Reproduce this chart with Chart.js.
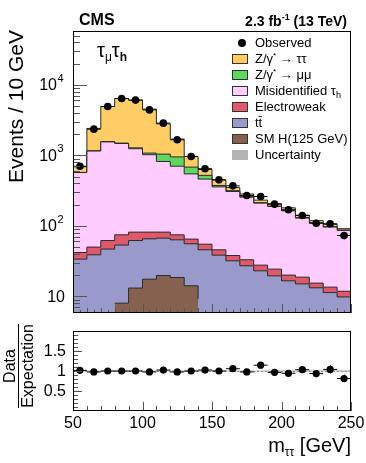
<!DOCTYPE html>
<html>
<head>
<meta charset="utf-8">
<script src="https://cdn.jsdelivr.net/npm/chart.js@4.4.1/dist/chart.umd.min.js"></script>
<style>
  body { margin: 0; background: #fff; font-family: "Liberation Sans", Arial, sans-serif; }
  #wrap { position: relative; width: 366px; height: 463px; overflow: hidden; background: #fff; }
  canvas { position: absolute; left: 0; }
  #main { top: 0; }
  #ratio { top: 320px; }
  .t { position: absolute; white-space: nowrap; color: #000; }
  .leg { position: absolute; left: 232px; font-size: 13px; line-height: 14px; white-space: nowrap; }
  .leg .box { position: absolute; left: 0; top: 2px; width: 16px; height: 10px; border: 1px solid #333; box-sizing: border-box; }
  .leg .lbl { position: absolute; left: 23px; top: 0; }
  .leg .dot { position: absolute; left: 6px; top: 3px; width: 8px; height: 8px; border-radius: 50%; background: #000; }
  sub, sup { line-height: 0; }
</style>
</head>
<body>
<div id="wrap">
  <canvas id="main" width="366" height="320"></canvas>
  <canvas id="ratio" width="366" height="143"></canvas>

  <div class="t" style="left:79px; top:12px; font-size:16px; line-height:16px; font-weight:bold;">CMS</div>
  <div class="t" style="right:19px; top:14px; font-size:14px; line-height:14px; font-weight:bold;">2.3 fb<sup style="font-size:9px; vertical-align:6px;">-1</sup> (13 TeV)</div>
  <div class="t" style="left:97px; top:40px; font-size:20px; line-height:20px;">τ<sub style="font-size:12px; vertical-align:-4px;">μ</sub>τ<sub style="font-size:12px; vertical-align:-4px; font-weight:bold;">h</sub></div>

  <div class="t" style="left:-84px; top:118px; width:200px; height:24px; line-height:24px; font-size:21px; text-align:right; transform:rotate(-90deg);">Events / 10 GeV</div>
  <div class="t" style="left:-31px; top:348px; width:100px; height:36px; font-size:16px; line-height:17px; text-align:center; transform:rotate(-90deg);">
    <div style="display:inline-block;"><div style="border-bottom:1px solid #000;">Data</div><div>Expectation</div></div>
  </div>
  <div class="t" style="right:15px; top:435px; font-size:20px; line-height:20px;">m<sub style="font-size:12px; vertical-align:-4px;">ττ</sub> [GeV]</div>

  <div id="legend"></div>
</div>

<script>
// bins of 10 GeV
const binEdges = [50, 60, 70, 80, 90, 100, 110, 120, 130, 140, 150, 160, 170, 180, 190, 200, 210, 220, 230, 240, 250];

const observed    = [700, 2350, 4930, 6400, 6070, 4410, 2860, 1660, 962, 645, 449, 369, 269, 260, 203, 169, 140, 109, 107, 73];
const zTauTau     = [117, 1248, 3365, 4910, 4795, 3443, 1753, 750, 281, 110, 75, 34, 25, 19, 16, 15, 11, 8, 8, 4];
const zMuMu       = [2, 10, 15, 20, 35, 55, 223, 250, 136, 60, 17, 8, 3, 3, 2, 2, 2, 1, 1, 1];
const misId       = [528, 1100, 1488, 1396, 1159, 939, 736, 626, 480, 405, 311, 269, 222, 182, 164, 143, 110, 94, 82.5, 74.3];
const electroweak = [8.1, 11.1, 15.0, 21.2, 19.6, 16.0, 14.5, 11.2, 9.2, 9.2, 7.3, 6.0, 5.9, 4.7, 4.8, 3.4, 3.7, 2.2, 2.2, 2.0];
const ttbar       = [33.7, 38.8, 46.8, 53.3, 61.8, 65.4, 66.9, 63.3, 55.6, 45.7, 38.4, 31.9, 27.1, 23.0, 19.5, 16.6, 15.0, 13.2, 11.3, 9.8];
const smHiggs     = [0, 0, 0, 8.0, 13.1, 17.5, 19.7, 18.5, 14.1, 9.1, 0, 0, 0, 0, 0, 0, 0, 0, 0, 0];

const ratio    = [1.016, 0.976, 1.0, 1.0, 1.0, 0.976, 1.024, 0.976, 1.0, 1.024, 1.0, 1.057, 0.976, 1.146, 0.967, 0.943, 1.033, 0.935, 1.04, 0.813];
const ratioUnc = [0.02, 0.02, 0.02, 0.02, 0.02, 0.02, 0.02, 0.02, 0.02, 0.02, 0.02, 0.02, 0.02, 0.02, 0.03, 0.03, 0.03, 0.03, 0.03, 0.03];

const yTicksMain  = [10, 100, 1000, 10000];
const yTicksRatio = [0.5, 1, 1.5];
const xTicks      = [50, 100, 150, 200, 250];

const colors = {
  zTauTau: '#FFCC66',
  zMuMu: '#5FD65F',
  misId: '#FFCCFF',
  electroweak: '#DE5A6A',
  ttbar: '#9999CC',
  smHiggs: '#866150',
  unc: '#B4B4B4'
};
const lineColor = '#2a2a2a';
const FONT = '"Liberation Sans", Arial, sans-serif';

const nBins = observed.length;
const binCenters = observed.map((_, i) => (binEdges[i] + binEdges[i + 1]) / 2);

// stack from the bottom up
const stack = [
  { name: 'tt̄', vals: ttbar, color: colors.ttbar },
  { name: 'Electroweak', vals: electroweak, color: colors.electroweak },
  { name: 'Misidentified τh', vals: misId, color: colors.misId },
  { name: 'Z/γ* → μμ', vals: zMuMu, color: colors.zMuMu },
  { name: 'Z/γ* → ττ', vals: zTauTau, color: colors.zTauTau }
];

let running = new Array(nBins).fill(0);
stack.forEach(s => {
  running = running.map((r, i) => r + s.vals[i]);
  s.top = running.slice();
});

function stepPoints(vals) {
  return binEdges.map((e, i) => ({ x: e, y: vals[Math.min(i, vals.length - 1)] }));
}

const mainSets = stack.map((s, k) => ({
  type: 'line',
  label: s.name,
  data: stepPoints(s.top),
  stepped: true,
  fill: 'start',
  backgroundColor: s.color,
  borderColor: lineColor,
  borderWidth: 1,
  pointRadius: 0,
  order: 10 + k
}));
mainSets.push({
  type: 'line',
  label: 'SM H(125 GeV)',
  data: stepPoints(smHiggs),
  stepped: true,
  fill: 'start',
  backgroundColor: colors.smHiggs,
  borderColor: lineColor,
  borderWidth: 1,
  pointRadius: 0,
  order: 5
});
mainSets.push({
  type: 'line',
  label: 'Observed',
  data: observed.map((v, i) => ({ x: binCenters[i], y: v })),
  showLine: false,
  pointRadius: 3.8,
  pointBackgroundColor: '#000',
  pointBorderWidth: 0,
  order: 0
});

function drawFrame(ctx, a) {
  ctx.strokeStyle = '#000';
  ctx.lineWidth = 1;
  ctx.strokeRect(a.left + 0.5, a.top + 0.5, a.width - 1, a.height - 1);
}

const mainDecor = {
  id: 'mainDecor',
  afterDatasetsDraw(chart) {
    const { ctx, chartArea: a } = chart;
    const x = chart.scales.x, y = chart.scales.y;
    ctx.save();

    // error bars on data
    ctx.strokeStyle = '#000';
    ctx.lineWidth = 1;
    observed.forEach((v, i) => {
      const cx = Math.round(x.getPixelForValue(binCenters[i])) + 0.5;
      const cy = y.getPixelForValue(v);
      const e = Math.sqrt(v);
      ctx.beginPath();
      ctx.moveTo(x.getPixelForValue(binEdges[i]), cy);
      ctx.lineTo(x.getPixelForValue(binEdges[i + 1]), cy);
      ctx.moveTo(cx, y.getPixelForValue(v - e));
      ctx.lineTo(cx, y.getPixelForValue(v + e));
      ctx.stroke();
    });

    // inward tick marks
    ctx.strokeStyle = '#555';
    ctx.beginPath();
    for (let e = 0; e <= 4; e++) {
      for (let m = 1; m <= 9; m++) {
        const v = m * Math.pow(10, e);
        if (v < y.min || v > y.max) continue;
        const py = Math.round(y.getPixelForValue(v)) + 0.5;
        const len = m === 1 ? 14 : 7;
        ctx.moveTo(a.left, py);
        ctx.lineTo(a.left + len, py);
      }
    }
    for (let v = 50; v <= 250; v += 5) {
      const px = Math.round(x.getPixelForValue(v)) + 0.5;
      const len = v % 50 === 0 ? 9 : (v % 10 === 0 ? 5 : 3);
      ctx.moveTo(px, a.bottom);
      ctx.lineTo(px, a.bottom - len);
    }
    ctx.stroke();

    drawFrame(ctx, a);

    // y labels
    ctx.fillStyle = '#000';
    ctx.textBaseline = 'middle';
    yTicksMain.forEach(v => {
      const py = y.getPixelForValue(v);
      const p = Math.round(Math.log10(v));
      ctx.font = '16px ' + FONT;
      ctx.textAlign = 'right';
      if (p === 1) {
        ctx.fillText('10', 65, py + 1);
      } else {
        ctx.fillText('10', 57, py + 1);
        ctx.font = '11px ' + FONT;
        ctx.textAlign = 'left';
        ctx.fillText(String(p), 57.5, py - 6);
      }
    });
    ctx.restore();
  }
};

new Chart(document.getElementById('main'), {
  type: 'line',
  data: { datasets: mainSets },
  options: {
    responsive: false,
    animation: false,
    layout: { padding: { left: 73, right: 15, top: 31, bottom: 7 } },
    plugins: { legend: { display: false }, tooltip: { enabled: false } },
    scales: {
      x: { type: 'linear', min: 50, max: 250, display: false },
      y: { type: 'logarithmic', min: 5.8, max: 58000, display: false }
    }
  },
  plugins: [mainDecor]
});

// ratio panel
const ratioSets = [
  {
    type: 'line',
    data: stepPoints(ratioUnc.map(u => 1 - u)),
    stepped: true,
    borderWidth: 0,
    pointRadius: 0,
    fill: false,
    order: 4
  },
  {
    type: 'line',
    data: stepPoints(ratioUnc.map(u => 1 + u)),
    stepped: true,
    borderWidth: 0,
    pointRadius: 0,
    fill: '-1',
    backgroundColor: 'rgba(170,170,170,0.55)',
    order: 3
  },
  {
    type: 'line',
    data: ratio.map((v, i) => ({ x: binCenters[i], y: v })),
    showLine: false,
    pointRadius: 3.6,
    pointBackgroundColor: '#000',
    pointBorderWidth: 0,
    order: 0
  }
];

const ratioDecor = {
  id: 'ratioDecor',
  beforeDatasetsDraw(chart) {
    const { ctx, chartArea: a } = chart;
    const y = chart.scales.y;
    ctx.save();
    ctx.strokeStyle = '#777';
    ctx.setLineDash([2, 2]);
    const py = Math.round(y.getPixelForValue(1)) + 0.5;
    ctx.beginPath();
    ctx.moveTo(a.left, py);
    ctx.lineTo(a.right, py);
    ctx.stroke();
    ctx.restore();
  },
  afterDatasetsDraw(chart) {
    const { ctx, chartArea: a } = chart;
    const x = chart.scales.x, y = chart.scales.y;
    ctx.save();
    ctx.strokeStyle = '#000';
    ctx.lineWidth = 1;
    ratio.forEach((r, i) => {
      const cx = Math.round(x.getPixelForValue(binCenters[i])) + 0.5;
      const cy = y.getPixelForValue(r);
      const e = r / Math.sqrt(observed[i]);
      ctx.beginPath();
      ctx.moveTo(x.getPixelForValue(binEdges[i]), cy);
      ctx.lineTo(x.getPixelForValue(binEdges[i + 1]), cy);
      ctx.moveTo(cx, y.getPixelForValue(r - e));
      ctx.lineTo(cx, y.getPixelForValue(r + e));
      ctx.stroke();
    });

    ctx.strokeStyle = '#555';
    ctx.beginPath();
    for (let k = 1; k <= 19; k++) {
      const py = Math.round(y.getPixelForValue(k / 10)) + 0.5;
      const len = k % 5 === 0 ? 9 : 5;
      ctx.moveTo(a.left, py);
      ctx.lineTo(a.left + len, py);
    }
    for (let v = 50; v <= 250; v += 10) {
      const px = Math.round(x.getPixelForValue(v)) + 0.5;
      const len = v % 50 === 0 ? 9 : 5;
      ctx.moveTo(px, a.bottom);
      ctx.lineTo(px, a.bottom - len);
    }
    ctx.stroke();

    drawFrame(ctx, a);

    ctx.fillStyle = '#000';
    ctx.font = '16px ' + FONT;
    ctx.textBaseline = 'middle';
    ctx.textAlign = 'right';
    yTicksRatio.forEach(v => {
      ctx.fillText(String(v), 66, y.getPixelForValue(v) + 1);
    });
    ctx.textAlign = 'center';
    xTicks.forEach(v => {
      ctx.fillText(String(v), x.getPixelForValue(v), a.bottom + 13);
    });
    ctx.restore();
  }
};

new Chart(document.getElementById('ratio'), {
  type: 'line',
  data: { datasets: ratioSets },
  options: {
    responsive: false,
    animation: false,
    layout: { padding: { left: 73, right: 15, top: 11, bottom: 52 } },
    plugins: { legend: { display: false }, tooltip: { enabled: false } },
    scales: {
      x: { type: 'linear', min: 50, max: 250, display: false },
      y: { type: 'linear', min: 0, max: 2, display: false }
    }
  },
  plugins: [ratioDecor]
});

// legend box, top right of the main panel
const legendRows = [
  { html: 'Observed', dot: true },
  { html: 'Z/γ<sup style="font-size:8px; vertical-align:5px;">*</sup> → ττ', color: colors.zTauTau },
  { html: 'Z/γ<sup style="font-size:8px; vertical-align:5px;">*</sup> → μμ', color: colors.zMuMu },
  { html: 'Misidentified τ<sub style="font-size:9px; vertical-align:-3px;">h</sub>', color: colors.misId },
  { html: 'Electroweak', color: colors.electroweak },
  { html: 'tt̄', color: colors.ttbar },
  { html: 'SM H(125 GeV)', color: colors.smHiggs },
  { html: 'Uncertainty', color: colors.unc, noBorder: true }
];
const legend = document.getElementById('legend');
legendRows.forEach((row, i) => {
  const d = document.createElement('div');
  d.className = 'leg';
  d.style.top = (35.5 + 16 * i) + 'px';
  let mark;
  if (row.dot) {
    mark = '<div class="dot"></div>';
  } else {
    mark = '<div class="box" style="background:' + row.color + ';' + (row.noBorder ? 'border-color:' + row.color + ';' : '') + '"></div>';
  }
  d.innerHTML = mark + '<div class="lbl">' + row.html + '</div>';
  legend.appendChild(d);
});
</script>
</body>
</html>
